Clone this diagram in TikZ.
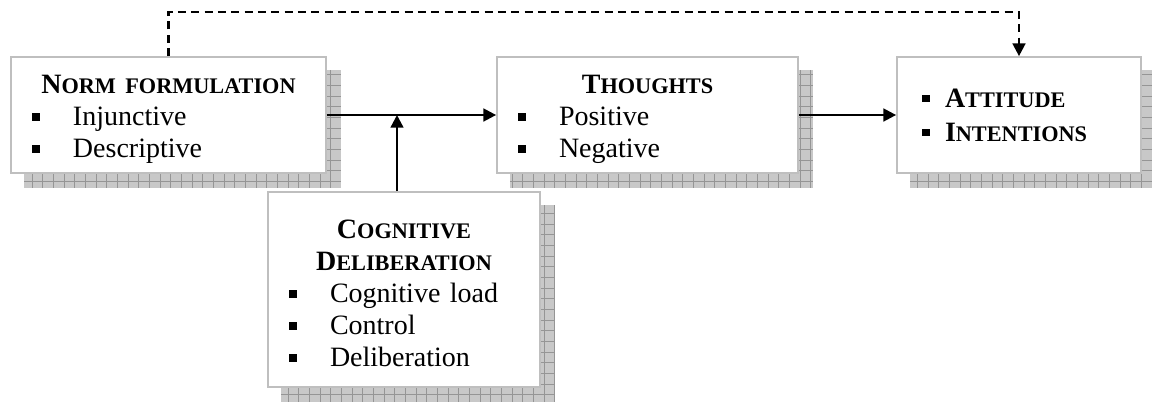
\documentclass[tikz,border=0pt]{standalone}
\usepackage{fontspec}
\setmainfont{Liberation Serif}
\usepackage{xcolor}
\usetikzlibrary{arrows.meta,positioning,calc,backgrounds}
\definecolor{boxgray}{HTML}{BFBFBF}
\definecolor{shadegray}{HTML}{C8C8C8}
\definecolor{gridgray}{HTML}{959595}

% fake small caps: big first letter, smaller capitals after it
\newcommand{\smcap}[2]{#1{\fontsize{16.7}{24}\selectfont #2}}
% bullet line: indent to bullet, gap to text
\newcommand{\bul}[3][15.75pt]{\hspace*{#1}\makebox[#2][l]{\rule[3.5pt]{5.8pt}{5.8pt}}#3}
\newcommand{\topstrut}{\rule{0pt}{20pt}}

\begin{document}
\begin{tikzpicture}[x=0.75pt,y=-0.75pt,>={Triangle[length=9.5pt,width=9.5pt]},
    every node/.style={font=\fontsize{21}{24}\selectfont},
    factor/.style={draw=boxgray,line width=1.3pt,fill=white,inner sep=0pt,align=left,minimum height=87pt},
    link/.style={->,line width=1.8pt}]
        \useasboundingbox (0,0) rectangle (1152,401);
        \node[factor,minimum width=236.25pt,text width=236.25pt] (norm) at (168.5,115)
            {\makebox[\linewidth][c]{\topstrut\bfseries\smcap{N}{ORM FORMULATION}}\\
             \bul{30.75pt}{Injunctive}\\
             \bul{30.75pt}{Descriptive}};
        \node[factor,minimum width=225.75pt,text width=225.75pt] (thought) at (647.5,115)
            {\makebox[\linewidth][c]{\topstrut\bfseries\smcap{T}{HOUGHTS}}\\
             \bul{30.75pt}{Positive}\\
             \bul{30.75pt}{Negative}};
        \node[factor,minimum width=183pt,text width=183pt,font=\fontsize{21}{25.5}\selectfont] (att) at (1019,115)
            {\bul[18.75pt]{17.25pt}{\bfseries\smcap{A}{TTITUDE}}\\
             \bul[18.75pt]{17.25pt}{\bfseries\smcap{I}{NTENTIONS}}};
        \node[factor,minimum width=204pt,text width=204pt,minimum height=146.25pt] (cog) at (404,289.5)
            {\makebox[\linewidth][c]{\topstrut\bfseries\smcap{C}{OGNITIVE}}\\
             \makebox[\linewidth][c]{\bfseries\smcap{D}{ELIBERATION}}\\
             \bul{30.75pt}{Cognitive load}\\
             \bul{30.75pt}{Control}\\
             \bul{30.75pt}{Deliberation}};
        % hatched drop shadows
        \begin{scope}[on background layer]
          \foreach \n in {norm,thought,att,cog}{
            \fill[shadegray] ($(\n.north west)+(14,14)$) rectangle ($(\n.south east)+(14,14)$);
            \begin{scope}
              \clip ($(\n.north west)+(14,14)$) rectangle ($(\n.south east)+(14,14)$);
              \draw[gridgray,line width=0.6pt,step=8pt] ($(\n.north west)+(14,14)$) grid ($(\n.south east)+(14,14)$);
            \end{scope}
          }
        \end{scope}
        \coordinate (join) at (397,115);
        \draw[link] (norm) -- (thought);
        \draw[link] (join |- cog.north) -- (join);
        \draw[link] (thought) -- (att);
        \draw[link,dash pattern=on 6pt off 4pt] (norm.north) -- ++(0,-44) -| (att.north);
      \end{tikzpicture}
\end{document}
